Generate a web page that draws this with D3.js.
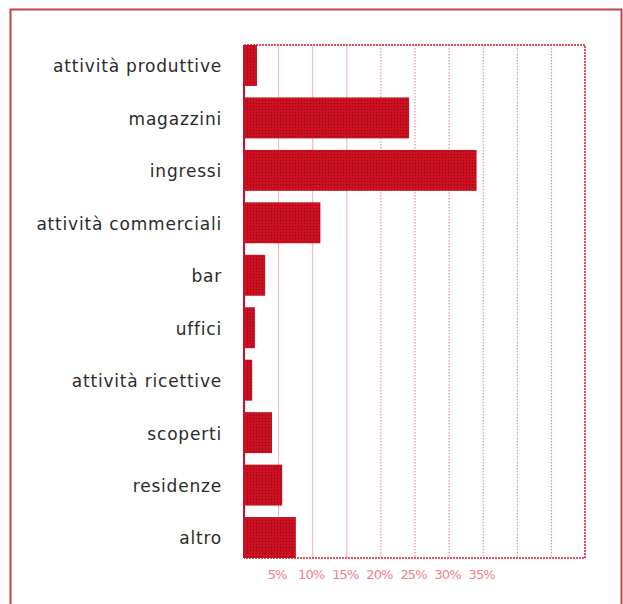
<!DOCTYPE html>
<html>
<head>
<meta charset="utf-8">
<script src="https://cdn.jsdelivr.net/npm/d3@7"></script>
<style>
  html, body { margin: 0; padding: 0; background: #fff; }
  svg { display: block; }
</style>
</head>
<body>
<div id="chart"></div>
<script>
// categorie e percentuali
const categories = ["attività produttive", "magazzini", "ingressi", "attività commerciali", "bar",
                    "uffici", "attività ricettive", "scoperti", "residenze", "altro"];
const values = [1.9, 24.2, 34.1, 11.2, 3.1, 1.6, 1.2, 4.1, 5.6, 7.6];
const gridTicks = [5, 10, 15, 20, 25, 30, 35, 40, 45, 50];
const tickLabels = [5, 10, 15, 20, 25, 30, 35];

const W = 623, H = 604;
const plot = { left: 244, right: 585, top: 45, bottom: 558 };

const svg = d3.select("#chart").append("svg")
    .attr("width", W)
    .attr("height", H);

// pattern a retino per le barre
const defs = svg.append("defs");
const pat = defs.append("pattern")
    .attr("id", "dots")
    .attr("width", 3).attr("height", 3)
    .attr("patternUnits", "userSpaceOnUse");
pat.append("rect").attr("width", 3).attr("height", 3).attr("fill", "#cf1020");
pat.append("circle").attr("cx", 1.5).attr("cy", 1.5).attr("r", 0.7).attr("fill", "#8c0a18");

// cornice esterna
svg.append("rect")
    .attr("x", 10.5).attr("y", 9.5)
    .attr("width", 611).attr("height", 620)
    .attr("fill", "none")
    .attr("stroke", "#c4404f")
    .attr("stroke-width", 2);

const x = d3.scaleLinear().domain([0, 50]).range([plot.left, plot.right]);
const y = d3.scaleBand().domain(categories).range([plot.top, plot.bottom])
    .paddingInner(0.22).paddingOuter(0);

// griglia verticale
svg.append("g")
    .selectAll("line")
    .data(gridTicks.slice(0, -1))
    .enter()
    .append("line")
    .attr("x1", d => x(d) + 0.5).attr("x2", d => x(d) + 0.5)
    .attr("y1", plot.top).attr("y2", plot.bottom)
    .attr("stroke", d => d < 20 ? "#f7b0b4" : "#e4808a")
    .attr("stroke-width", 1)
    .attr("stroke-dasharray", d => d < 20 ? null : "1.5,1.5");

// bordo dell'area del grafico
svg.append("path")
    .attr("d", `M${plot.left},${plot.top}H${plot.right}V${plot.bottom}H${plot.left}`)
    .attr("fill", "none")
    .attr("stroke", "#e2505e")
    .attr("stroke-width", 2)
    .attr("stroke-dasharray", "2,1");

// barre
svg.append("g")
    .selectAll("rect")
    .data(categories)
    .enter()
    .append("rect")
    .attr("x", x(0))
    .attr("y", d => y(d))
    .attr("width", (d, i) => x(values[i]) - x(0))
    .attr("height", y.bandwidth())
    .attr("fill", "url(#dots)");

// asse sinistro
svg.append("line")
    .attr("x1", plot.left).attr("x2", plot.left)
    .attr("y1", plot.top).attr("y2", plot.bottom)
    .attr("stroke", "#c8102a")
    .attr("stroke-width", 2);

// etichette categorie
svg.append("g")
    .selectAll("text")
    .data(categories)
    .enter()
    .append("text")
    .attr("x", 222)
    .attr("y", d => y(d) + y.bandwidth() / 2 + 1)
    .attr("dy", "0.35em")
    .attr("text-anchor", "end")
    .attr("font-family", "'DejaVu Sans', sans-serif")
    .attr("font-size", 17)
    .attr("letter-spacing", 0.8)
    .attr("fill", "#2b2b2b")
    .text(d => d);

// etichette percentuali
svg.append("g")
    .selectAll("text")
    .data(tickLabels)
    .enter()
    .append("text")
    .attr("x", d => x(d) - 1)
    .attr("y", 579)
    .attr("text-anchor", "middle")
    .attr("font-family", "'DejaVu Sans', sans-serif")
    .attr("font-size", 13)
    .attr("letter-spacing", -0.9)
    .attr("fill", "#ef7f88")
    .text(d => d + "%");
</script>
</body>
</html>
